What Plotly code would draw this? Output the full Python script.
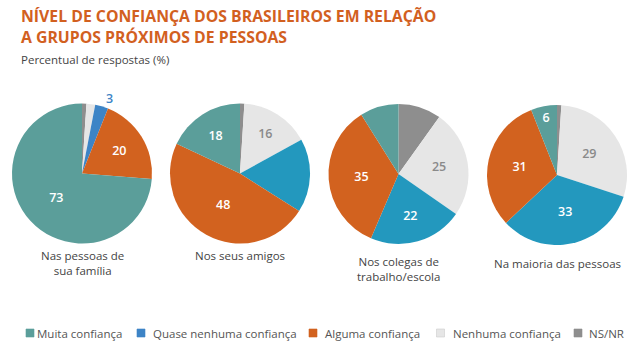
import plotly.graph_objects as go

# slice order clockwise from 12 o'clock
categories = ["NS/NR", "Nenhuma confiança", "Quase nenhuma confiança", "Alguma confiança", "Muita confiança"]
legend_order = ["Muita confiança", "Quase nenhuma confiança", "Alguma confiança", "Nenhuma confiança", "NS/NR"]
groups = ["Nas pessoas de<br>sua família", "Nos seus amigos", "Nos colegas de<br>trabalho/escola", "Na maioria das pessoas"]

familia = [1, 2, 3, 20, 73]
amigos = [1, 16, 17, 48, 18]
colegas = [10, 25, 22, 35, 9]
maioria = [1, 29, 33, 31, 6]
series = [familia, amigos, colegas, maioria]

shown_labels = [
    ["", "", "3", "20", "73"],
    ["", "16", "", "48", "18"],
    ["", "25", "22", "35", ""],
    ["", "29", "33", "31", "6"],
]

teal = "#5b9e9a"
orange = "#d2621f"
blue1 = "#3d84c6"
blue2 = "#2398be"
lgray = "#e6e6e6"
dgray = "#8e8e8e"
colors_first = [dgray, lgray, blue1, orange, teal]
colors_rest = [dgray, lgray, blue2, orange, teal]
legend_colors = {"Muita confiança": teal, "Quase nenhuma confiança": blue1,
                 "Alguma confiança": orange, "Nenhuma confiança": lgray, "NS/NR": dgray}

W, H = 640, 346
centers = [(82, 173.5), (240, 173.5), (398.5, 174), (557, 175)]
R = 70

fig = go.Figure()
for i, vals in enumerate(series):
    cx, cy = centers[i]
    cols = colors_first if i == 0 else colors_rest
    txtcols = []
    positions = []
    for j, t in enumerate(shown_labels[i]):
        if i == 0 and j == 2:
            txtcols.append(blue1)
            positions.append("outside")
        elif j == 1:
            txtcols.append("#8a8a8a")
            positions.append("inside")
        else:
            txtcols.append("white")
            positions.append("inside")
    fig.add_trace(go.Pie(
        labels=categories, values=vals, text=shown_labels[i],
        textinfo="text", textposition=positions,
        insidetextorientation="horizontal",
        textfont=dict(family="Open Sans", size=12.5, color=txtcols, weight=600),
        marker=dict(colors=cols, line=dict(width=0)),
        sort=False, direction="clockwise", rotation=0,
        showlegend=False, hoverinfo="label+value",
        domain=dict(x=[(cx - R) / W, (cx + R) / W], y=[1 - (cy + R) / H, 1 - (cy - R) / H]),
    ))

# Titles
fig.add_annotation(text="NÍVEL DE CONFIANÇA DOS BRASILEIROS EM RELAÇÃO<br>A GRUPOS PRÓXIMOS DE PESSOAS",
                   x=19 / W, y=1 - 3 / H, xref="paper", yref="paper", xanchor="left", yanchor="top",
                   showarrow=False, align="left",
                   font=dict(family="Open Sans", size=15.8, color="#d2601f", weight=700))
fig.add_annotation(text="Percentual de respostas (%)", x=19 / W, y=1 - 50 / H, xref="paper", yref="paper",
                   xanchor="left", yanchor="top", showarrow=False,
                   font=dict(family="Open Sans", size=11.5, color="#444444"))

# group labels
label_y = [246, 246, 252, 254]
for i, g in enumerate(groups):
    fig.add_annotation(text=g, x=centers[i][0] / W, y=1 - label_y[i] / H, xref="paper", yref="paper",
                       xanchor="center", yanchor="top", showarrow=False, align="center",
                       font=dict(family="Open Sans", size=11.5, color="#444444"))

# legend
sq_x = [26, 137, 309, 436.5, 574]
txt_x = [35, 151, 323, 451, 587]
for k, name in enumerate(legend_order):
    x0 = sq_x[k]
    fig.add_shape(type="rect", xref="paper", yref="paper",
                  x0=x0 / W, x1=(x0 + 8) / W, y0=1 - 337 / H, y1=1 - 329 / H,
                  fillcolor=legend_colors[name], line=dict(width=0.6, color="#cccccc" if name == "Nenhuma confiança" else legend_colors[name]))
    fig.add_annotation(text=name, x=txt_x[k] / W, y=1 - 333 / H, xref="paper", yref="paper",
                       xanchor="left", yanchor="middle", showarrow=False,
                       font=dict(family="Open Sans", size=11.5, color="#555555"))

fig.update_layout(width=W, height=H, margin=dict(l=0, r=0, t=0, b=0),
                  paper_bgcolor="white", plot_bgcolor="white")
fig.write_html("out.html")
